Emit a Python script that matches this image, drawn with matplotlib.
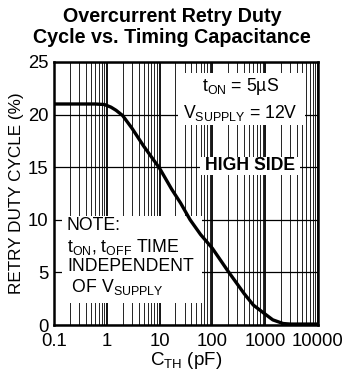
import matplotlib
matplotlib.use("Agg")
import matplotlib.pyplot as plt
from matplotlib.patches import Rectangle
from matplotlib.ticker import FixedLocator, FixedFormatter, NullFormatter

# curve (C_TH in pF, duty cycle in %)
cap_pf = [0.1, 0.3, 0.6, 0.9, 1.2, 1.5, 2, 3, 5, 10, 17, 25, 38, 60, 100,
          200, 400, 600, 1000, 1400, 2200, 3000, 10000]
duty_pct = [21.0, 21.0, 21.0, 20.95, 20.7, 20.4, 19.9, 18.7, 17.0, 14.9, 12.9, 11.6,
            10.0, 8.6, 7.3, 5.1, 3.0, 1.9, 1.05, 0.5, 0.15, 0.1, 0.1]

x_ticks = [0.1, 1, 10, 100, 1000, 10000]
x_labels = ["0.1", "1", "10", "100", "1000", "10000"]
y_ticks = [0, 5, 10, 15, 20, 25]

plt.rcParams["font.family"] = ["Liberation Sans", "DejaVu Sans"]
plt.rcParams["mathtext.fontset"] = "custom"
plt.rcParams["mathtext.rm"] = "Liberation Sans"
plt.rcParams["mathtext.it"] = "Liberation Sans"

fig = plt.figure(figsize=(3.44, 3.75), dpi=100)
ax = fig.add_axes([0.157, 0.133, 0.767, 0.702])

ax.plot(cap_pf, duty_pct, color="black", lw=2.4, zorder=5, solid_capstyle="round")
ax.set_xscale("log")
ax.set_xlim(0.1, 10000)
ax.set_ylim(0, 25)

ax.xaxis.set_major_locator(FixedLocator(x_ticks))
ax.xaxis.set_major_formatter(FixedFormatter(x_labels))
ax.xaxis.set_minor_locator(FixedLocator(
    [m * 10.0 ** e for e in range(-1, 4) for m in range(2, 10)]))
ax.xaxis.set_minor_formatter(NullFormatter())
ax.set_yticks(y_ticks)
ax.tick_params(which="both", length=0, labelsize=13.3)
ax.tick_params(axis="x", pad=6)
ax.tick_params(axis="y", pad=4)

ax.grid(True, which="major", axis="x", color="black", lw=1.3, zorder=0.5)
ax.grid(True, which="minor", axis="x", color="#222222", lw=0.7, zorder=0.5)
ax.grid(True, which="major", axis="y", color="black", lw=0.9, zorder=0.5)
ax.set_axisbelow(True)

for s in ax.spines.values():
    s.set_linewidth(1.8)
    s.set_zorder(6)

# white masks behind the annotation blocks
for (x0, y0, x1, y1) in [(0.470, 0.760, 0.951, 0.958),
                         (0.553, 0.570, 0.932, 0.639),
                         (0.030, 0.084, 0.561, 0.414)]:
    ax.add_patch(Rectangle((x0, y0), x1 - x0, y1 - y0, transform=ax.transAxes,
                           facecolor="white", edgecolor="none", zorder=2))

fs = 12.7
ax.text(0.708, 0.905, r"$\mathregular{t_{ON}}$ = 5µS", transform=ax.transAxes,
        ha="center", va="center", fontsize=fs, zorder=3)
ax.text(0.705, 0.806, r"$\mathregular{V_{SUPPLY}}$ = 12V", transform=ax.transAxes,
        ha="center", va="center", fontsize=fs, zorder=3)
ax.text(0.742, 0.605, "HIGH SIDE", transform=ax.transAxes,
        ha="center", va="center", fontsize=fs, fontweight="bold", zorder=3)

note_lines = ["NOTE:",
              r"$\mathregular{t_{ON}}$, $\mathregular{t_{OFF}}$ TIME",
              "INDEPENDENT",
              r" OF $\mathregular{V_{SUPPLY}}$"]
for line, yy in zip(note_lines, [0.380, 0.297, 0.221, 0.144]):
    ax.text(0.049, yy, line, transform=ax.transAxes, ha="left", va="center",
            fontsize=fs, zorder=3)

ax.set_xlabel(r"$\mathregular{C_{TH}}$ (pF)", fontsize=13.5, labelpad=0)
ax.set_ylabel("RETRY DUTY CYCLE (%)", fontsize=12.3, labelpad=3)

fig.suptitle("Overcurrent Retry Duty\nCycle vs. Timing Capacitance",
             fontsize=14.2, fontweight="bold", y=0.98, linespacing=1.12)

fig.savefig("out.png", dpi=100)
